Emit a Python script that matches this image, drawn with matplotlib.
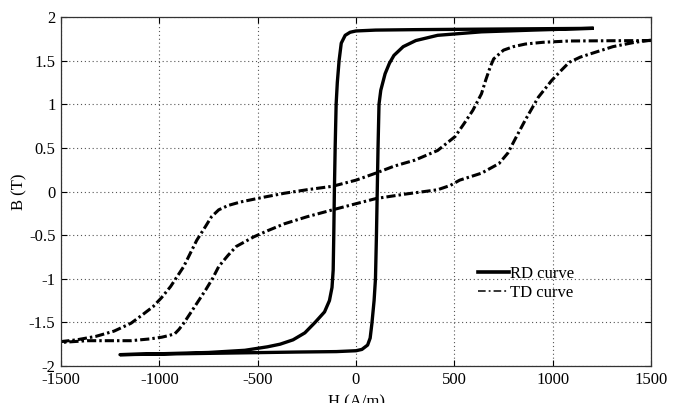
import matplotlib
matplotlib.use('Agg')
import matplotlib.pyplot as plt
from matplotlib.lines import Line2D

plt.rcParams['font.family'] = ['Liberation Serif', 'DejaVu Serif']

# RD curve, descending branch (from +Hmax to -Hmax)
rd_h_desc = [1200, 900, 600, 300, 100, 0, -30, -55, -75, -86, -95, -101, -106, -110,
             -113, -116, -122, -135, -160, -208, -260, -320, -386, -450, -565, -750, -1000, -1200]
rd_b_desc = [1.87, 1.865, 1.86, 1.855, 1.85, 1.84, 1.825, 1.79, 1.7, 1.5, 1.25, 1.0, 0.5, 0.0,
             -0.5, -0.9, -1.1, -1.25, -1.38, -1.5, -1.62, -1.7, -1.75, -1.78, -1.82, -1.845, -1.86, -1.87]
# RD curve, ascending branch (from -Hmax to +Hmax)
rd_h_asc = [-1200, -900, -600, -300, -100, 0, 30, 59, 72, 81, 92, 99, 104, 108,
            112, 117, 126, 148, 170, 193, 240, 304, 415, 638, 900, 1200]
rd_b_asc = [-1.87, -1.86, -1.85, -1.84, -1.835, -1.825, -1.81, -1.76, -1.68, -1.51, -1.25, -1.0, -0.5, 0.0,
            0.5, 1.0, 1.16, 1.35, 1.47, 1.56, 1.66, 1.73, 1.79, 1.83, 1.85, 1.87]

# TD curve, descending branch
td_h_desc = [1500, 1300, 1084, 950, 861, 800, 750, 700, 683, 660, 638, 594, 550, 504, 415,
             300, 193, 100, 0, -119, -250, -364, -480, -587, -650, -698, -735, -765, -810,
             -876, -943, -990, -1032, -1090, -1144, -1230, -1322, -1420, -1500]
td_b_desc = [1.73, 1.728, 1.725, 1.71, 1.69, 1.66, 1.62, 1.52, 1.43, 1.28, 1.12, 0.93, 0.78, 0.63, 0.47,
             0.36, 0.29, 0.21, 0.13, 0.06, 0.02, -0.02, -0.07, -0.12, -0.16, -0.21, -0.29, -0.4, -0.56,
             -0.86, -1.09, -1.22, -1.32, -1.42, -1.51, -1.6, -1.66, -1.7, -1.72]
# TD curve, ascending branch
td_h_asc = [-1500, -1366, -1250, -1144, -1050, -988, -950, -921, -900, -876, -832, -800, -765,
            -730, -698, -650, -609, -520, -450, -364, -250, -119, 0, 103, 250, 415, 480, 527,
            638, 727, 772, 816, 861, 927, 994, 1040, 1084, 1140, 1195, 1306, 1418, 1484, 1500]
td_b_asc = [-1.73, -1.71, -1.71, -1.71, -1.69, -1.67, -1.65, -1.63, -1.58, -1.51, -1.36, -1.25, -1.13,
            -1.0, -0.86, -0.73, -0.63, -0.52, -0.45, -0.37, -0.29, -0.21, -0.14, -0.08, -0.03, 0.02, 0.07, 0.13,
            0.21, 0.32, 0.44, 0.63, 0.82, 1.08, 1.27, 1.38, 1.48, 1.54, 1.58, 1.66, 1.71, 1.73, 1.735]

xticks = [-1500, -1000, -500, 0, 500, 1000, 1500]
yticks = [-2, -1.5, -1, -0.5, 0, 0.5, 1, 1.5, 2]
ytick_labels = ['-2', '-1.5', '-1', '-0.5', '0', '0.5', '1', '1.5', '2']
series_names = ['RD curve', 'TD curve']

fig = plt.figure(figsize=(6.86, 4.03), dpi=100)
ax = fig.add_axes([61 / 686, 1 - 366 / 403, 590 / 686, 349 / 403])

ax.plot(rd_h_desc + rd_h_asc, rd_b_desc + rd_b_asc, color='black', lw=2.4,
        solid_joinstyle='round')
ax.plot(td_h_desc + td_h_asc, td_b_desc + td_b_asc, color='black', lw=2.2,
        dashes=(3.0, 1.0, 0.8, 1.0))

ax.set_xlim(-1500, 1500)
ax.set_ylim(-2, 2)
ax.set_xticks(xticks)
ax.set_xticklabels([str(t) for t in xticks])
ax.set_yticks(yticks)
ax.set_yticklabels(ytick_labels)
ax.grid(True, color='#555555', linestyle=(0, (1, 2.5)), linewidth=0.8)
ax.tick_params(direction='in', top=True, right=True, length=4, width=0.8,
               labelsize=12, pad=4)
for s in ax.spines.values():
    s.set_linewidth(0.9)
    s.set_color('#333333')

ax.set_xlabel('H (A/m)', fontsize=12, labelpad=5)
ax.set_ylabel('B (T)', fontsize=12, labelpad=1)

# legend handles are drawn thinner than the plotted curves, as in the original
handles = [Line2D([], [], color='black', lw=2.6),
           Line2D([], [], color='black', lw=1.1, dashes=(5, 2, 1.2, 2))]
ax.legend(handles, series_names, loc='center left', bbox_to_anchor=(0.707, 0.236),
          frameon=False, fontsize=12, borderaxespad=0, borderpad=0,
          handlelength=1.85, handletextpad=0.05, labelspacing=0.2)

fig.savefig('out.png', dpi=100)
